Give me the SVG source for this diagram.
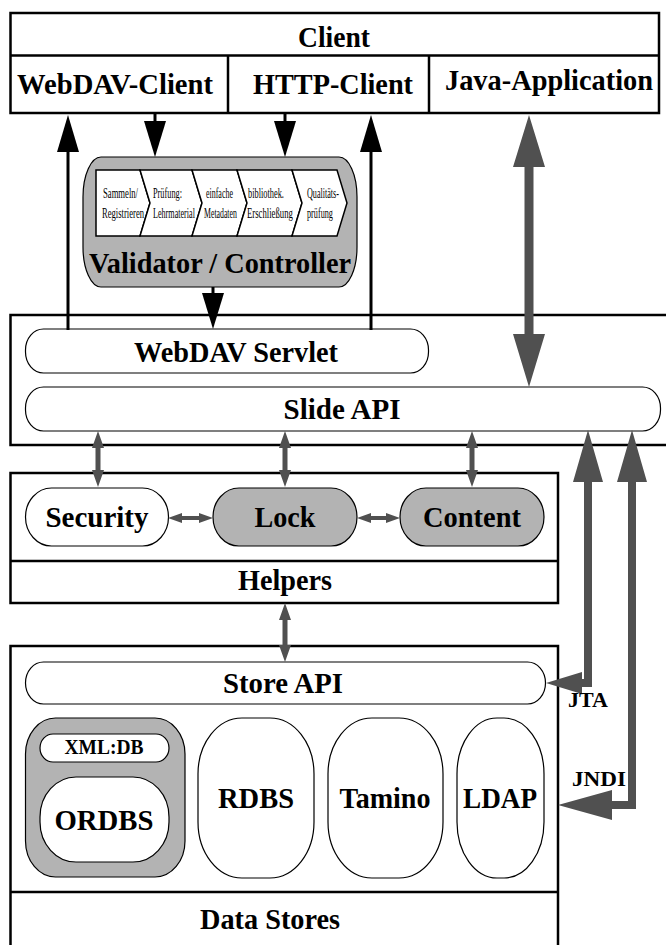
<svg xmlns="http://www.w3.org/2000/svg" width="666" height="945" viewBox="0 0 666 945">
<style>
.box{fill:#fff;stroke:#000;stroke-width:2.5}
.pill{fill:#fff;stroke:#000;stroke-width:1.2}
.gpill{fill:#b3b3b3;stroke:#000;stroke-width:1.2}
.t{font-family:"Liberation Serif","Times New Roman",serif;font-weight:bold;font-size:30px;text-anchor:middle;fill:#000}
.s{font-family:"Liberation Serif","Times New Roman",serif;font-size:15px;fill:#000}
.bl{stroke:#000;stroke-width:3;fill:none}
.bh{fill:#000}
.g{fill:#505050}
.chev{fill:#fff;stroke:#000;stroke-width:1.5}
</style>
<rect width="666" height="945" fill="#fff"/>

<g id="client">
<rect class="box" x="10.5" y="13" width="648.5" height="100"/>
<line x1="10.5" y1="55.5" x2="659" y2="55.5" stroke="#000" stroke-width="2.5"/>
<line x1="228" y1="55.5" x2="228" y2="113" stroke="#000" stroke-width="2.5"/>
<line x1="429" y1="55.5" x2="429" y2="113" stroke="#000" stroke-width="2.5"/>
<text class="t" x="334" y="47" textLength="72" lengthAdjust="spacingAndGlyphs">Client</text>
<text class="t" x="115" y="94" textLength="196" lengthAdjust="spacingAndGlyphs">WebDAV-Client</text>
<text class="t" x="333" y="94" textLength="160" lengthAdjust="spacingAndGlyphs">HTTP-Client</text>
<text class="t" x="549" y="90" textLength="208" lengthAdjust="spacingAndGlyphs">Java-Application</text>
</g>

<g id="validator">
<rect class="gpill" x="83" y="157" width="274" height="130" rx="18" ry="40"/>
<polygon class="chev" points="96,170 140,170 150,203 140,236 96,236"/>
<polygon class="chev" points="140,170 192,170 202,203 192,236 140,236 150,203"/>
<polygon class="chev" points="192,170 237,170 247,203 237,236 192,236 202,203"/>
<polygon class="chev" points="237,170 292,170 302,203 292,236 237,236 247,203"/>
<polygon class="chev" points="292,170 337,170 347,203 337,236 292,236 302,203"/>
<text class="s" transform="translate(103,198) scale(0.576,1)">Sammeln/</text>
<text class="s" transform="translate(102,218) scale(0.573,1)">Registrieren</text>
<text class="s" transform="translate(153,198) scale(0.552,1)">Prüfung:</text>
<text class="s" transform="translate(153,218) scale(0.542,1)">Lehrmaterial</text>
<text class="s" transform="translate(206,198) scale(0.53,1)">einfache</text>
<text class="s" transform="translate(204,218) scale(0.52,1)">Metadaten</text>
<text class="s" transform="translate(248,198) scale(0.557,1)">bibliothek.</text>
<text class="s" transform="translate(247,218) scale(0.58,1)">Erschließung</text>
<text class="s" transform="translate(307,198) scale(0.54,1)">Qualitäts-</text>
<text class="s" transform="translate(307,218) scale(0.547,1)">prüfung</text>
<text class="t" x="220" y="273" textLength="262" lengthAdjust="spacingAndGlyphs">Validator / Controller</text>
</g>

<g id="servlet-layer">
<rect class="box" x="10.5" y="315" width="680" height="130"/>
</g>
<g id="webdav-servlet">
<rect class="pill" x="25.5" y="329" width="403" height="44" rx="18" ry="21"/>
<text class="t" x="236" y="362" textLength="204" lengthAdjust="spacingAndGlyphs">WebDAV Servlet</text>
</g>
<g id="slide-api">
<rect class="pill" x="25.5" y="387" width="635" height="44" rx="18" ry="21"/>
<text class="t" x="342" y="419" textLength="117" lengthAdjust="spacingAndGlyphs">Slide API</text>
</g>

<g id="helpers">
<rect class="box" x="10.5" y="473" width="547.5" height="130"/>
<line x1="10.5" y1="561" x2="558" y2="561" stroke="#000" stroke-width="2.5"/>
<text class="t" x="285" y="590" textLength="94" lengthAdjust="spacingAndGlyphs">Helpers</text>
</g>
<g id="security">
<rect class="pill" x="25.5" y="488" width="143" height="58" rx="26" ry="29"/>
<text class="t" x="97" y="527" textLength="103" lengthAdjust="spacingAndGlyphs">Security</text>
</g>
<g id="lock">
<rect class="gpill" x="213" y="488" width="144" height="58" rx="26" ry="29"/>
<text class="t" x="285" y="527" textLength="61" lengthAdjust="spacingAndGlyphs">Lock</text>
</g>
<g id="content">
<rect class="gpill" x="400" y="488" width="144" height="58" rx="26" ry="29"/>
<text class="t" x="472" y="527" textLength="98" lengthAdjust="spacingAndGlyphs">Content</text>
</g>

<g id="data-stores">
<rect class="box" x="10.5" y="646" width="547.5" height="320"/>
<line x1="10.5" y1="892" x2="558" y2="892" stroke="#000" stroke-width="2.5"/>
<text class="t" x="270" y="929" textLength="140" lengthAdjust="spacingAndGlyphs">Data Stores</text>
</g>
<g id="store-api">
<rect class="pill" x="25.5" y="662" width="520" height="42" rx="18" ry="21"/>
<text class="t" x="283" y="693" textLength="120" lengthAdjust="spacingAndGlyphs">Store API</text>
</g>
<g id="ordbs">
<rect class="gpill" x="25.5" y="718" width="159.5" height="159" rx="30" ry="36"/>
<rect class="pill" x="40" y="734" width="129" height="28" rx="13" ry="14"/>
<text class="t" x="104" y="754" style="font-size:20px" textLength="79" lengthAdjust="spacingAndGlyphs">XML:DB</text>
<rect class="pill" x="40" y="777" width="129" height="85" rx="36" ry="40"/>
<text class="t" x="104" y="830" textLength="99" lengthAdjust="spacingAndGlyphs">ORDBS</text>
</g>
<g id="rdbs">
<rect class="pill" x="198" y="718" width="116" height="160" rx="44" ry="56"/>
<text class="t" x="256" y="808" textLength="76" lengthAdjust="spacingAndGlyphs">RDBS</text>
</g>
<g id="tamino">
<rect class="pill" x="328" y="718" width="115" height="160" rx="44" ry="56"/>
<text class="t" x="385" y="808" textLength="91" lengthAdjust="spacingAndGlyphs">Tamino</text>
</g>
<g id="ldap">
<rect class="pill" x="457" y="718" width="87" height="160" rx="40" ry="56"/>
<text class="t" x="500" y="808" textLength="74" lengthAdjust="spacingAndGlyphs">LDAP</text>
</g>

<g id="connectors">
<line class="bl" x1="68" y1="330" x2="68" y2="148"/>
<polygon class="bh" points="68,115 57,152 79,152"/>
<line class="bl" x1="155" y1="113" x2="155" y2="125"/>
<polygon class="bh" points="155,157 144,121 166,121"/>
<line class="bl" x1="285" y1="113" x2="285" y2="125"/>
<polygon class="bh" points="285,157 274,121 296,121"/>
<line class="bl" x1="371" y1="330" x2="371" y2="148"/>
<polygon class="bh" points="371,115 360,152 382,152"/>
<line class="bl" x1="213" y1="287" x2="213" y2="297"/>
<polygon class="bh" points="213,329 202,293 224,293"/>

<path class="g" d="M529,115 L545,167 L533.5,167 L533.5,334 L545,334 L529,387 L513,334 L524.5,334 L524.5,167 L513,167 Z"/>

<path class="g" d="M98,431 L104,448 L100.5,448 L100.5,470 L104,470 L98,487 L92,470 L95.5,470 L95.5,448 L92,448 Z"/>
<path class="g" d="M285,431 L291,448 L287.5,448 L287.5,470 L291,470 L285,487 L279,470 L282.5,470 L282.5,448 L279,448 Z"/>
<path class="g" d="M472,431 L478,448 L474.5,448 L474.5,470 L478,470 L472,487 L466,470 L469.5,470 L469.5,448 L466,448 Z"/>
<path class="g" d="M285,603 L291,620 L287.5,620 L287.5,645 L291,645 L285,662 L279,645 L282.5,645 L282.5,620 L279,620 Z"/>

<path class="g" d="M168,518 L182,513 L182,516 L199,516 L199,513 L213,518 L199,523 L199,520 L182,520 L182,523 Z"/>
<path class="g" d="M357,518 L371,513 L371,516 L386,516 L386,513 L400,518 L386,523 L386,520 L371,520 L371,523 Z"/>

<path class="g" d="M588,430 L603,482 L592,482 L592,687 L582,687 L582,694 L546,683 L582,672 L582,679 L584,679 L584,482 L573,482 Z"/>
<path class="g" d="M632,430 L647,482 L636,482 L636,809 L612,809 L612,820 L558,805 L612,790 L612,801 L628,801 L628,482 L617,482 Z"/>
<text class="t" x="588" y="707" style="font-size:21px" textLength="40" lengthAdjust="spacingAndGlyphs">JTA</text>
<text class="t" x="599" y="786" style="font-size:21px" textLength="54" lengthAdjust="spacingAndGlyphs">JNDI</text>
</g>
</svg>
